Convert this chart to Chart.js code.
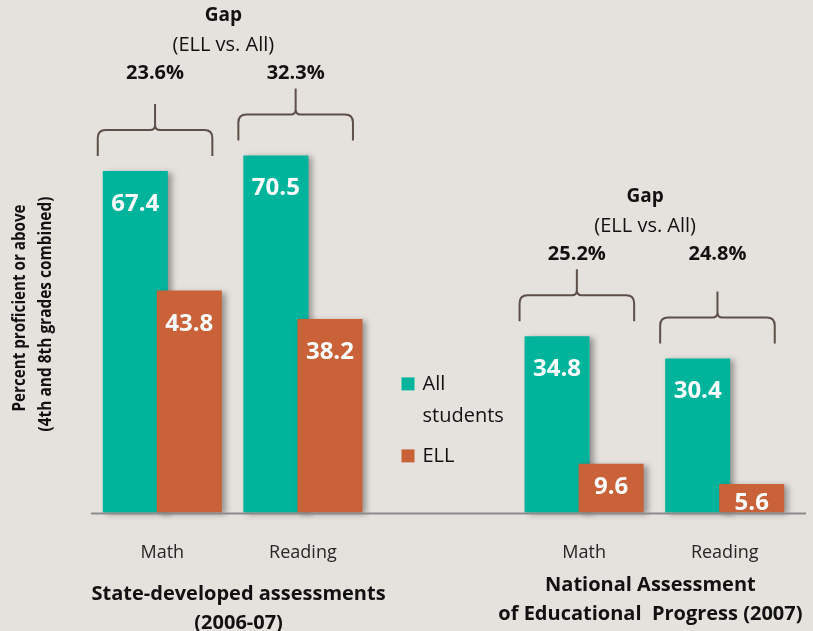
<!DOCTYPE html>
<html>
<head>
<meta charset="utf-8">
<script src="https://cdn.jsdelivr.net/npm/chart.js@4/dist/chart.umd.min.js"></script>
<style>
html, body { margin: 0; padding: 0; background: #E5E1DD; }
canvas { display: block; }
</style>
</head>
<body>
<canvas id="chart" width="813" height="631"></canvas>
<script>
// data
const categories = ['Math', 'Reading', '', 'Math', 'Reading'];
const allStudents = [67.4, 70.5, null, 34.8, 30.4];
const ell = [43.8, 38.2, null, 9.6, 5.6];
const seriesNames = ['All students', 'ELL'];
const groupMembers = [[0, 1], [3, 4]];
const groupNames = [
    ['State-developed assessments', '(2006-07)'],
    ['National Assessment', 'of Educational  Progress (2007)']
];
const gapTitle = ['Gap', '(ELL vs. All)'];
const yTitle = ['Percent proficient or above', '(4th and 8th grades combined)'];

const TEAL = '#00B39B';
const ORANGE = '#C96238';
const BRACE = '#5E4F49';
const FONT = '"Open Sans", sans-serif';

function withShadow(ctx, fn) {
    ctx.save();
    ctx.shadowColor = 'rgba(0,0,0,0.35)';
    ctx.shadowBlur = 6;
    ctx.shadowOffsetX = 4;
    ctx.shadowOffsetY = 2;
    fn();
    ctx.restore();
}

// teal sits left in each pair but the orange bar overlaps it, so the
// orange dataset is held back and drawn after the teal one
const barLayers = {
    id: 'barLayers',
    beforeDatasetDraw(chart, args) {
        if (args.index === 1) return false;
        chart.ctx.save();
        chart.ctx.shadowColor = 'rgba(0,0,0,0.35)';
        chart.ctx.shadowBlur = 6;
        chart.ctx.shadowOffsetX = 4;
        chart.ctx.shadowOffsetY = 2;
    },
    afterDatasetDraw(chart, args) {
        chart.ctx.restore();
        if (args.index === 0) {
            withShadow(chart.ctx, () => chart.getDatasetMeta(1).controller.draw());
        }
    }
};

function drawBrace(ctx, L, R, C, E) {
    const M = E - 26, T = E - 52, r = 8, rc = 5;
    ctx.beginPath();
    ctx.moveTo(L, E);
    ctx.lineTo(L, M + r);
    ctx.quadraticCurveTo(L, M, L + r, M);
    ctx.lineTo(C - rc, M);
    ctx.quadraticCurveTo(C, M, C, M - rc);
    ctx.lineTo(C, T);
    ctx.moveTo(R, E);
    ctx.lineTo(R, M + r);
    ctx.quadraticCurveTo(R, M, R - r, M);
    ctx.lineTo(C + rc, M);
    ctx.quadraticCurveTo(C, M, C, M - rc);
    ctx.stroke();
}

const annotations = {
    id: 'annotations',
    afterDatasetsDraw(chart) {
        const ctx = chart.ctx;
        const xs = chart.scales.x, ys = chart.scales.y;
        const area = chart.chartArea;
        const catW = (area.right - area.left) / categories.length;
        const teal = chart.getDatasetMeta(0).data;
        const orange = chart.getDatasetMeta(1).data;

        // baseline
        ctx.save();
        ctx.strokeStyle = '#8C8C8C';
        ctx.lineWidth = 2;
        ctx.beginPath();
        const by = ys.getPixelForValue(0) + 1;
        ctx.moveTo(area.left - 1, by);
        ctx.lineTo(area.right + 11, by);
        ctx.stroke();

        // value labels inside the bars
        ctx.fillStyle = '#FFFFFF';
        ctx.font = 'bold 24px ' + FONT;
        ctx.textAlign = 'center';
        ctx.textBaseline = 'alphabetic';
        [teal, orange].forEach((els, d) => {
            const vals = d === 0 ? allStudents : ell;
            els.forEach((el, i) => {
                if (vals[i] == null) return;
                const h = el.base - el.y;
                const off = Math.min(40, 20 + 0.22 * h);
                ctx.fillText(vals[i].toFixed(1), el.x, el.y + off);
            });
        });

        // braces and gap numbers
        groupMembers.forEach((members, g) => {
            const cx = [];
            let top = Infinity;
            members.forEach(i => {
                const px = xs.getPixelForValue(i);
                const L = px - 0.459 * catW, R = px + 0.356 * catW;
                const C = (L + R) / 2;
                const E = teal[i].y - 15;
                ctx.strokeStyle = BRACE;
                ctx.lineWidth = 2;
                drawBrace(ctx, L, R, C, E);
                cx.push(C);
                top = Math.min(top, E - 52);
            });
            const pctY = top - 9;
            ctx.fillStyle = '#111111';
            ctx.font = 'bold 20px ' + FONT;
            members.forEach((i, k) => {
                ctx.fillText((allStudents[i] - ell[i]).toFixed(1) + '%', cx[k], pctY);
            });
            const mid = (cx[0] + cx[1]) / 2 - 2;
            ctx.font = 'bold 19px ' + FONT;
            ctx.fillText(gapTitle[0], mid, pctY - 58);
            ctx.font = '20px ' + FONT;
            ctx.fillText(gapTitle[1], mid, pctY - 28.5);

            // group name under the tick labels
            const groupDx = [6, -4], groupY = [600, 591];
            const gx = (xs.getPixelForValue(members[0]) + xs.getPixelForValue(members[1])) / 2 + groupDx[g];
            ctx.font = 'bold 20px ' + FONT;
            ctx.fillText(groupNames[g][0], gx, groupY[g]);
            ctx.fillText(groupNames[g][1], gx, groupY[g] + 29);
        });

        // legend in the empty category
        const lx = xs.getPixelForValue(2) - 42;
        const sqTop = [area.bottom - 135, area.bottom - 63];
        ctx.textAlign = 'left';
        ctx.font = '20px ' + FONT;
        chart.data.datasets.forEach((ds, d) => {
            ctx.fillStyle = ds.backgroundColor;
            ctx.fillRect(lx, sqTop[d], 13, 13);
            ctx.fillStyle = '#111111';
            ds.label.split(' ').forEach((w, k) => {
                ctx.fillText(w, lx + 21, sqTop[d] + 13 + k * 32);
            });
        });

        // rotated y title, condensed
        const yCenters = [[20, 308], [46, 314]];
        const yLens = [207, 235];
        const ySizes = [18, 17];
        yTitle.forEach((t, k) => {
            ctx.save();
            ctx.font = 'bold ' + ySizes[k] + 'px ' + FONT;
            const w = ctx.measureText(t).width;
            ctx.translate(yCenters[k][0], yCenters[k][1]);
            ctx.rotate(-Math.PI / 2);
            ctx.scale(yLens[k] / w, 1);
            ctx.textAlign = 'center';
            ctx.textBaseline = 'middle';
            ctx.fillStyle = '#111111';
            ctx.fillText(t, 0, 0);
            ctx.restore();
        });
        ctx.restore();
    }
};

new Chart(document.getElementById('chart'), {
    type: 'bar',
    data: {
        labels: categories,
        datasets: [
            { label: seriesNames[0], data: allStudents, backgroundColor: TEAL },
            { label: seriesNames[1], data: ell, backgroundColor: ORANGE }
        ]
    },
    options: {
        responsive: false,
        animation: false,
        categoryPercentage: 0.7687,
        barPercentage: 1.2037,
        datasets: { bar: { clip: false } },
        layout: { padding: { left: 92, right: 18, top: 6, bottom: 45 } },
        scales: {
            x: {
                grid: { display: false },
                border: { display: false },
                ticks: {
                    font: { family: FONT, size: 18 },
                    color: '#262626',
                    padding: 22,
                    autoSkip: false,
                    maxRotation: 0
                }
            },
            y: { display: false, min: 0, max: 100 }
        },
        plugins: {
            legend: { display: false },
            tooltip: { enabled: false }
        }
    },
    plugins: [barLayers, annotations]
});
</script>
</body>
</html>
